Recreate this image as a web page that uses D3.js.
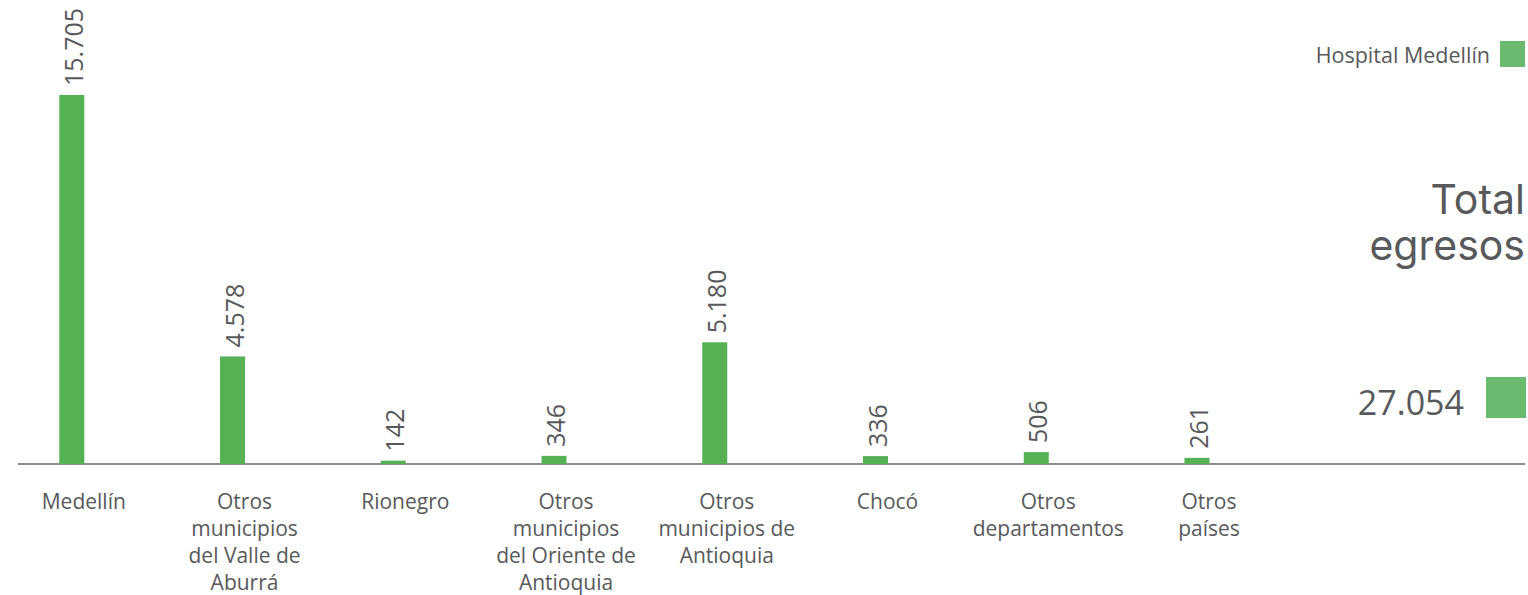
<!DOCTYPE html>
<html>
<head>
<meta charset="utf-8">
<script src="https://cdn.jsdelivr.net/npm/d3@7"></script>
<style>
  html, body { margin: 0; padding: 0; background: #ffffff; }
  svg { display: block; }
</style>
</head>
<body>
<svg id="chart" width="1528" height="595"></svg>
<script>
// ---- data ----
const categories = [
  "Medellín",
  "Otros municipios del Valle de Aburrá",
  "Rionegro",
  "Otros municipios del Oriente de Antioquia",
  "Otros municipios de Antioquia",
  "Chocó",
  "Otros departamentos",
  "Otros países"
];
const categoryLines = [
  ["Medellín"],
  ["Otros", "municipios", "del Valle de", "Aburrá"],
  ["Rionegro"],
  ["Otros", "municipios", "del Oriente de", "Antioquia"],
  ["Otros", "municipios de", "Antioquia"],
  ["Chocó"],
  ["Otros", "departamentos"],
  ["Otros", "países"]
];
const values = [15705, 4578, 142, 346, 5180, 336, 506, 261];
const seriesName = "Hospital Medellín";
const totalTitle = ["Total", "egresos"];
const totalValue = 27054;

// ---- styles ----
const barColor = "#55b254";
const keyColor = "#6aba6f";
const textColor = "#58595b";
const axisColor = "#8d8d8d";

const svg = d3.select("#chart");
const locale = d3.formatLocale({ decimal: ",", thousands: ".", grouping: [3], currency: ["$", ""] });
const fmt = locale.format(",d");

const baseY = 464;
const x = d3.scalePoint().domain(categories).range([71.8, 1197]).padding(0);
const y = d3.scaleLinear().domain([0, 15705]).range([baseY, 95]);
const barW = 25;

// axis line
svg.append("line")
  .attr("x1", 18).attr("x2", 1525)
  .attr("y1", baseY).attr("y2", baseY)
  .attr("stroke", axisColor).attr("stroke-width", 2);

// bars
svg.append("g").selectAll("rect")
  .data(values)
  .join("rect")
  .attr("x", (d, i) => x(categories[i]) - barW / 2)
  .attr("width", barW)
  .attr("y", d => y(d))
  .attr("height", d => baseY - y(d))
  .attr("fill", barColor);

// value labels (rotated)
svg.append("g").selectAll("text")
  .data(values)
  .join("text")
  .attr("transform", (d, i) => `translate(${x(categories[i]) + 1},${y(d) - 9}) rotate(-90)`)
  .attr("text-anchor", "start")
  .attr("dominant-baseline", "central")
  .attr("font-family", "'Open Sans', sans-serif")
  .attr("font-size", 25)
  .attr("fill", textColor)
  .text(d => fmt(d));

// category labels
const labG = svg.append("g");
categoryLines.forEach((lines, i) => {
  const t = labG.append("text")
    .attr("text-anchor", "middle")
    .attr("font-family", "'Open Sans', sans-serif")
    .attr("font-size", 21)
    .attr("fill", textColor);
  lines.forEach((ln, j) => {
    t.append("tspan")
      .attr("x", x(categories[i]) + 12)
      .attr("y", 509 + j * 27)
      .text(ln);
  });
});

// legend
svg.append("rect")
  .attr("x", 1500).attr("y", 41).attr("width", 25).attr("height", 26)
  .attr("fill", keyColor);
svg.append("text")
  .attr("x", 1490).attr("y", 63)
  .attr("text-anchor", "end")
  .attr("font-family", "'Open Sans', sans-serif")
  .attr("font-size", 21.5)
  .attr("fill", textColor)
  .text(seriesName);

// total block
const tt = svg.append("text")
  .attr("text-anchor", "end")
  .attr("font-family", "Inter, sans-serif")
  .attr("font-size", 41)
  .attr("fill", textColor);
totalTitle.forEach((ln, j) => {
  tt.append("tspan").attr("x", 1525).attr("y", 214 + j * 46).text(ln);
});

svg.append("rect")
  .attr("x", 1486).attr("y", 377).attr("width", 40).attr("height", 41)
  .attr("fill", keyColor);
svg.append("text")
  .attr("x", 1464).attr("y", 415)
  .attr("text-anchor", "end")
  .attr("font-family", "'Open Sans', sans-serif")
  .attr("font-size", 34)
  .attr("fill", textColor)
  .text(fmt(totalValue));
</script>
</body>
</html>
